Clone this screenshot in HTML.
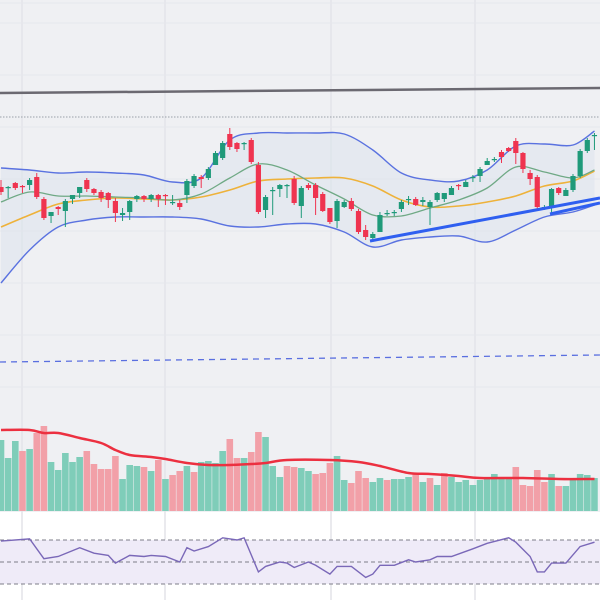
<!DOCTYPE html>
<html><head><meta charset="utf-8"><style>
html,body{margin:0;padding:0;background:#fff;}
svg{display:block;font-family:"Liberation Sans",sans-serif;}
</style></head><body>
<svg id="chart" width="600" height="600" viewBox="0 0 600 600" xmlns="http://www.w3.org/2000/svg">
<rect x="0" y="0" width="600" height="512" fill="#eff0f3"/>
<rect x="0" y="512" width="600" height="88" fill="#ffffff"/>
<g id="grid"></g>
<g id="bands"></g>
<g id="candles"></g>
<g id="overlays"></g>
<g id="volume"></g>
<g id="rsi"></g>
</svg>
<script>
// Candle OHLC in price units (price = 400 - pixel y)
const opens =  [213,212,217,214,215,223,201,184,193,189,201,207,220,211,208,207,199,185,188,201,204,201,205,205,198,197,205,214,223,222,235,242,266,257,257,260,235,190,210,211,215,221,194,215,215,206,192,179,193,199,189,170,162,168,187,188,191,200,201,198,193,200,201,205,215,213,222,224,235,240,248,252,259,247,227,223,192,193,212,204,210,224,249,265];
const closes = [208,213,212,213,220,203,182,188,191,199,205,213,211,207,202,200,187,187,199,204,201,205,201,204,198,193,219,224,221,231,247,257,253,251,257,238,188,203,210,215,215,197,212,212,202,189,178,199,198,191,168,163,166,185,187,188,198,201,195,200,198,207,207,212,214,218,223,231,239,241,243,249,247,231,221,193,193,211,207,210,224,249,260,265];
const highs =  [220,214,218,215,222,227,203,188,194,201,205,213,222,212,210,208,202,192,200,205,205,206,206,206,205,200,221,226,225,233,249,259,272,258,258,262,238,205,213,216,216,224,214,217,217,208,192,201,200,202,191,175,168,188,190,190,200,204,203,203,200,208,207,214,216,220,225,233,242,243,250,253,262,248,230,225,195,212,213,212,226,251,262,267];
const lows =   [205,202,210,207,210,201,180,177,185,173,196,202,208,205,198,192,178,179,180,198,198,198,193,195,195,190,197,212,212,220,235,240,250,248,250,236,186,182,185,203,202,195,182,210,185,188,176,172,192,189,166,160,158,183,184,184,188,195,194,194,175,198,198,205,210,213,218,218,237,238,237,248,236,227,215,190,190,185,205,204,208,222,247,250];
const volumes = [71,53,70,60,62,78,85,49,41,58,49,54,60,47,42,42,55,32,46,45,44,40,51,32,36,40,45,39,49,50,48,60,72,53,53,59,79,74,45,34,45,44,43,40,37,38,48,55,31,28,40,33,29,33,31,32,32,34,37,29,33,26,38,34,29,31,26,31,34,37,33,32,44,26,25,41,29,37,25,25,31,37,36,33];
const volUp = [1,1,1,0,1,0,0,1,1,1,1,1,0,0,0,0,0,1,1,1,0,1,0,1,0,0,1,0,1,1,1,1,0,0,1,0,0,1,1,1,0,0,1,1,0,0,0,1,1,0,0,0,1,1,0,1,1,1,0,1,0,1,0,1,1,1,1,1,1,1,1,1,0,0,0,0,0,1,0,1,1,1,1,1];
// Indicator samples (by candle index)
const indIdx =   [0,4,8,12,16,20,24,28,32,36,40,44,48,52,56,60,64,68,72,76,80,83];
const upperBand =[232,230,227,228,227,225,218,222,260,267,267,267,266,250,227,220,219,230,254,256,255,269];
const lowerBand =[117,150,173,180,183,183,183,181,174,173,176,176,168,153,160,163,164,158,170,183,188,195];
const sma20 =    [198,208,204,204,203,202,200,206,222,236,230,215,201,185,184,192,200,212,233,228,222,230];
const sma50 =    [173,185,196,200,202,201,200,203,210,219,221,222,222,214,200,193,194,198,204,214,219,229];
const volMaIdx = [0,4,6,8,11,14,16,18,21,23,26,29,32,35,37,40,46,50,53,57,60,64,67,73,78,83];
const volMa =    [81,81,78,78,73,68,61,56,54,52,48,46,46,47,48,51,51,49,45,38,37,35,33,33,32,32];
const rsiIdx =   [0,4,6,8,11,13,15,16,18,20,21,23,25,26,27,29,31,33,34,36,37,39,40,41,43,44,46,47,49,51,52,53,55,57,58,60,61,63,66,68,71,72,74,75,76,77,79,81,83];
const rsiVal =   [69,71,53,55,63,58,56,49,56,55,56,55,50,63,60,64,72,70,72,41,46,50,49,45,50,47,39,46,46,36,39,47,47,52,50,52,55,55,62,67,72,68,55,41,41,49,49,64,68];

const NS='http://www.w3.org/2000/svg';
function el(tag, attrs, parent){const e=document.createElementNS(NS,tag);for(const k in attrs)e.setAttribute(k,attrs[k]);parent.appendChild(e);return e;}
const xScale = i => 1 + i*7.15;
const yPrice = p => 400 - p;
const yVol = v => 511 - v;
const yRsi = r => 562 - (r-50)*1.1;

// grid
const grid=document.getElementById('grid');
[22,165,331,475].forEach(x=>{const l=el('line',{x1:x,x2:x,y1:0,y2:600,stroke:'#e3e4e9','stroke-width':1.5},grid);

});
[3,23,75,127,179,231,283,335,387].forEach(y=>{const l=el('line',{x1:0,x2:600,y1:y,y2:y,stroke:'#e6e7ec','stroke-width':1},grid);

});

function pts(idx, vals, yf){return idx.map((i,k)=>[xScale(i),yf(vals[k])]);}
function smooth(p, start){
  let d=(start||'M')+p[0][0].toFixed(1)+' '+p[0][1].toFixed(1);
  for(let k=0;k<p.length-1;k++){
    const p0=p[Math.max(0,k-1)],p1=p[k],p2=p[k+1],p3=p[Math.min(p.length-1,k+2)];
    const c1=[p1[0]+(p2[0]-p0[0])/6,p1[1]+(p2[1]-p0[1])/6];
    const c2=[p2[0]-(p3[0]-p1[0])/6,p2[1]-(p3[1]-p1[1])/6];
    d+=' C'+c1[0].toFixed(1)+' '+c1[1].toFixed(1)+' '+c2[0].toFixed(1)+' '+c2[1].toFixed(1)+' '+p2[0].toFixed(1)+' '+p2[1].toFixed(1);
  }
  return d;
}
function lin(p){return p.map((q,k)=>(k?'L':'M')+q[0].toFixed(1)+' '+q[1].toFixed(1)).join(' ');}

// bands
const bands=document.getElementById('bands');
const upP=pts(indIdx,upperBand,yPrice), loP=pts(indIdx,lowerBand,yPrice);
const up=smooth(upP);
const fill=el('path',{d:up+' '+smooth(loP.slice().reverse(),'L')+' Z',fill:'#dde3ec','fill-opacity':0.55,stroke:'none'},bands);


const ub=el('path',{d:up,fill:'none',stroke:'#5a72e0','stroke-width':1.4},bands);


const lb=el('path',{d:smooth(loP),fill:'none',stroke:'#5a72e0','stroke-width':1.4},bands);


const s50=el('path',{d:smooth(pts(indIdx,sma50,yPrice)),fill:'none',stroke:'#eeb23a','stroke-width':1.6},bands);


const s20=el('path',{d:smooth(pts(indIdx,sma20,yPrice)),fill:'none',stroke:'#6fa985','stroke-width':1.3},bands);



// overlays
const ov=document.getElementById('overlays');
const res=el('line',{x1:0,y1:93,x2:600,y2:88,stroke:'#6b6971','stroke-width':2.5},ov);


const dot=el('line',{x1:0,y1:117,x2:600,y2:117,stroke:'#9aa0a8','stroke-width':1,'stroke-dasharray':'1.5 1.5'},ov);


const dsh=el('line',{x1:0,y1:362,x2:600,y2:355,stroke:'#5a6fe0','stroke-width':1.3,'stroke-dasharray':'6 5'},ov);



// candles
const cg=document.getElementById('candles');
opens.forEach((o,i)=>{
  const c=closes[i], isUp=c>=o, col=isUp?'#1f9a7a':'#ef3450';
  const x=xScale(i);
  const g=el('g',{},cg);
  
  
  el('line',{x1:x,x2:x,y1:yPrice(highs[i]),y2:yPrice(lows[i]),stroke:col,'stroke-width':1},g);
  const top=yPrice(Math.max(o,c)), h=Math.max(1.2,Math.abs(o-c));
  el('rect',{x:x-2.6,y:top,width:5.2,height:h,fill:col},g);
});

const t1=el('line',{x1:370,y1:241,x2:600,y2:198,stroke:'#2f5ff0','stroke-width':3},ov);


const t2=el('line',{x1:550,y1:214,x2:600,y2:203,stroke:'#2f5ff0','stroke-width':3},ov);


cg.parentNode.appendChild(ov);

// volume
const vg=document.getElementById('volume');
volumes.forEach((v,i)=>{
  const r=el('rect',{x:xScale(i)-3.3,y:yVol(v),width:6.6,height:v,fill:volUp[i]?'#7fcdb9':'#f2a0a8'},vg);
  
  
});
const vm=el('path',{d:smooth(pts(volMaIdx,volMa,yVol)),fill:'none',stroke:'#ec3040','stroke-width':2.5},vg);



// rsi
const rg=document.getElementById('rsi');
const rb=el('rect',{x:0,y:yRsi(70),width:600,height:yRsi(30)-yRsi(70),fill:'#efebf8'},rg);


[70,50,30].forEach(v=>{const l=el('line',{x1:0,x2:600,y1:yRsi(v),y2:yRsi(v),stroke:'#7d7d88','stroke-width':1,'stroke-dasharray':'4 3'},rg);

});
const rl=el('path',{d:lin(pts(rsiIdx,rsiVal,yRsi)),fill:'none',stroke:'#7a68b8','stroke-width':1.4},rg);


</script>
</body></html>
